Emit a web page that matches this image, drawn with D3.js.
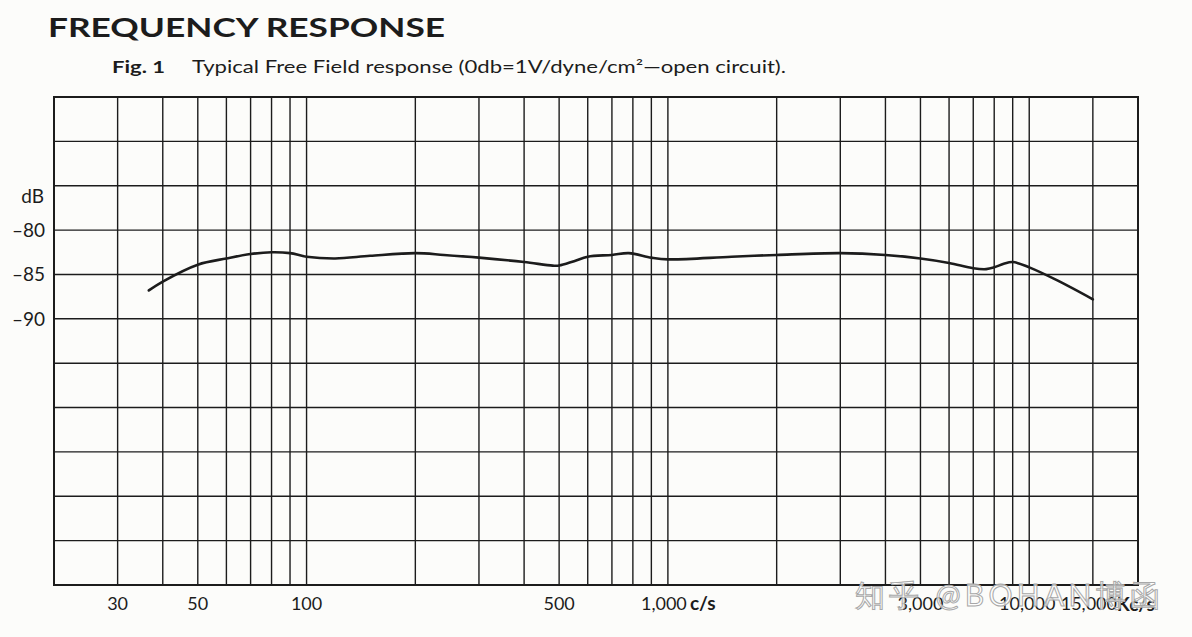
<!DOCTYPE html>
<html>
<head>
<meta charset="utf-8">
<script src="https://cdn.jsdelivr.net/npm/d3@7"></script>
<style>
  html, body { margin: 0; padding: 0; background: #fcfcfa; }
  svg { display: block; }
  text { font-family: Lato, "Open Sans", sans-serif; fill: #1c1c1c; }
</style>
</head>
<body>
<div id="chart"></div>
<script>
// Response curve (Hz, dB)
const freqs = [36.6, 40, 50, 60, 70, 80, 90, 100, 120, 150, 200, 240, 300, 400, 480, 500, 550, 600, 700, 780, 900, 1000, 1500, 2000, 3000, 4000, 5000, 6000, 7000, 7600, 8000, 8500, 9000, 10000, 12000, 15000];
const levels = [-86.8, -85.8, -83.9, -83.2, -82.7, -82.5, -82.6, -83.0, -83.2, -82.9, -82.6, -82.8, -83.1, -83.6, -84.0, -84.0, -83.5, -83.0, -82.8, -82.6, -83.1, -83.3, -83.0, -82.8, -82.6, -82.8, -83.2, -83.7, -84.3, -84.4, -84.2, -83.8, -83.6, -84.2, -85.7, -87.8];

// Vertical grid lines (Hz) and horizontal grid lines (dB)
const gridFreqs = [30, 40, 50, 60, 70, 80, 90, 100, 200, 300, 400, 500, 600, 700, 800, 900, 1000, 2000, 3000, 4000, 5000, 6000, 7000, 8000, 9000, 10000, 15000];
const gridLevels = [-115, -110, -105, -100, -95, -90, -85, -80, -75, -70];

// Axis labels
const xTickFreqs = [30, 50, 100, 500, 1000, 5000, 10000, 15000];
const xTickLabels = ["30", "50", "100", "500", "1,000", "3,000", "10,000", "15,000"];
const yTickLevels = [-80, -85, -90];
const yTickLabels = ["–80", "–85", "–90"];

const width = 1192, height = 637;
const plot = { left: 54, right: 1138, top: 97, bottom: 585 };
const ink = "#1c1c1c";

const svg = d3.select("#chart").append("svg")
    .attr("width", width)
    .attr("height", height);

const x = d3.scaleLog().domain([20, 20000]).range([plot.left, plot.right]);
const y = d3.scaleLinear().domain([-120, -65]).range([plot.bottom, plot.top]);

// Title block
svg.append("text")
    .attr("x", 48).attr("y", 37)
    .attr("font-family", "'DejaVu Sans', sans-serif")
    .attr("font-size", 27).attr("font-weight", 700)
    .attr("textLength", 397).attr("lengthAdjust", "spacingAndGlyphs")
    .text("FREQUENCY RESPONSE");

svg.append("text")
    .attr("x", 112).attr("y", 73)
    .attr("font-family", "'Open Sans', sans-serif")
    .attr("font-size", 17).attr("font-weight", 700)
    .attr("textLength", 53).attr("lengthAdjust", "spacingAndGlyphs")
    .text("Fig. 1");

svg.append("text")
    .attr("x", 192).attr("y", 73)
    .attr("font-family", "'Open Sans', sans-serif")
    .attr("font-size", 17)
    .attr("textLength", 594).attr("lengthAdjust", "spacingAndGlyphs")
    .text("Typical Free Field response (0db=1V/dyne/cm²—open circuit).");

// Grid
const grid = svg.append("g").attr("stroke", ink);

grid.selectAll("line.v")
    .data(gridFreqs)
    .join("line")
    .attr("class", "v")
    .attr("x1", d => x(d)).attr("x2", d => x(d))
    .attr("y1", plot.top).attr("y2", plot.bottom)
    .attr("stroke-width", 1.4);

grid.selectAll("line.h")
    .data(gridLevels)
    .join("line")
    .attr("class", "h")
    .attr("x1", plot.left).attr("x2", plot.right)
    .attr("y1", d => y(d)).attr("y2", d => y(d))
    .attr("stroke-width", 1.4);

svg.append("rect")
    .attr("x", plot.left).attr("y", plot.top)
    .attr("width", plot.right - plot.left)
    .attr("height", plot.bottom - plot.top)
    .attr("fill", "none")
    .attr("stroke", ink)
    .attr("stroke-width", 2);

// Response curve
const points = freqs.map((f, i) => [f, levels[i]]);
const line = d3.line()
    .x(d => x(d[0]))
    .y(d => y(d[1]))
    .curve(d3.curveCatmullRom.alpha(0.5));

svg.append("path")
    .datum(points)
    .attr("d", line)
    .attr("fill", "none")
    .attr("stroke", ink)
    .attr("stroke-width", 2.6)
    .attr("stroke-linecap", "round");

// Y labels
svg.selectAll("text.ylab")
    .data(yTickLevels)
    .join("text")
    .attr("class", "ylab")
    .attr("x", 45)
    .attr("y", d => y(d))
    .attr("dy", "0.36em")
    .attr("text-anchor", "end")
    .attr("font-size", 19)
    .text((d, i) => yTickLabels[i]);

svg.append("text")
    .attr("x", 44)
    .attr("y", y(-80) - 34)
    .attr("dy", "0.36em")
    .attr("text-anchor", "end")
    .attr("font-size", 19)
    .text("dB");

// X labels
const xShift = { 1000: -4, 10000: -2, 15000: -4 };
svg.selectAll("text.xlab")
    .data(xTickFreqs)
    .join("text")
    .attr("class", "xlab")
    .attr("x", d => x(d) + (xShift[d] || 0))
    .attr("y", 610)
    .attr("text-anchor", "middle")
    .attr("font-size", 18)
    .text((d, i) => xTickLabels[i]);

svg.append("text")
    .attr("x", x(1000) + 22).attr("y", 610)
    .attr("font-size", 19).attr("font-weight", 700)
    .text("c/s");

svg.append("text")
    .attr("x", x(15000) + 24).attr("y", 611)
    .attr("font-size", 19).attr("font-weight", 700)
    .text("Kc/s");

// Watermark
svg.append("text")
    .attr("x", 855).attr("y", 606)
    .attr("font-family", "'Noto Sans CJK SC', sans-serif")
    .attr("font-size", 30)
    .attr("stroke", "#a8a8a8")
    .attr("stroke-width", 1)
    .attr("textLength", 305).attr("lengthAdjust", "spacing")
    .style("fill", "rgba(255,255,255,0.75)")
    .text("知乎 @BOHAN博函");
</script>
</body>
</html>
